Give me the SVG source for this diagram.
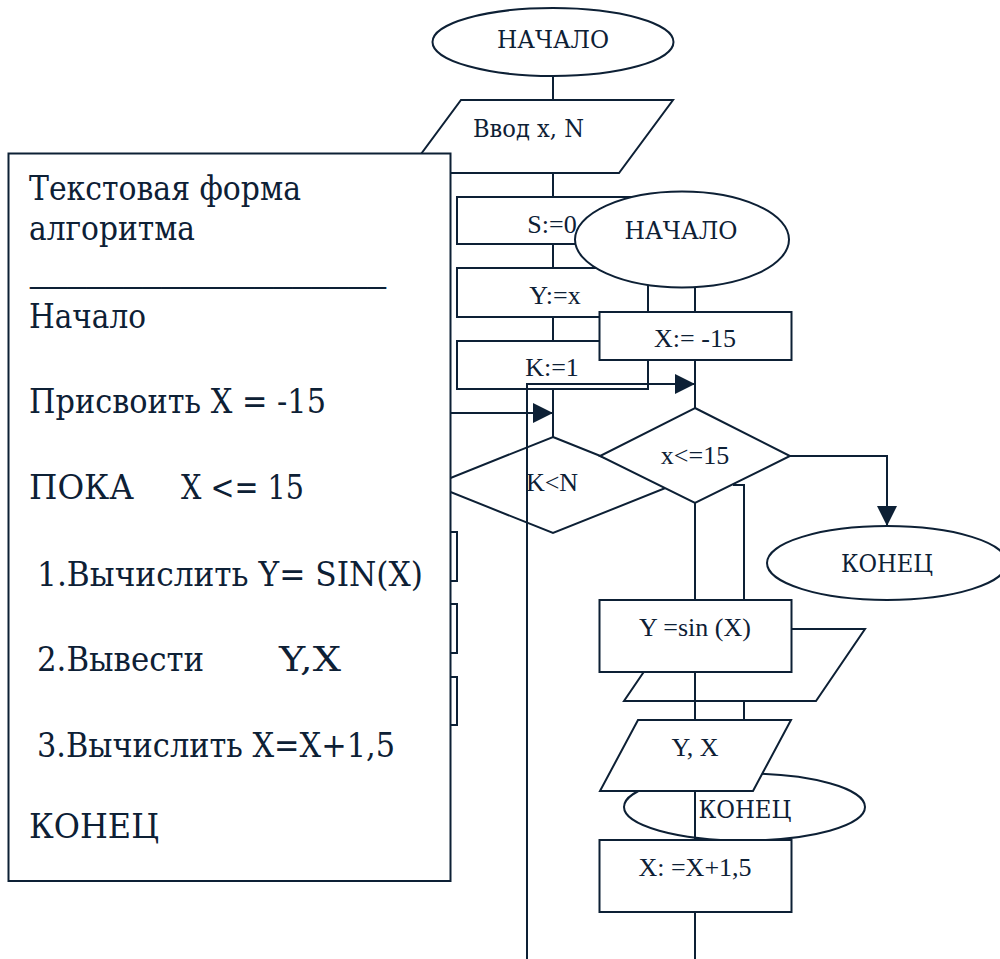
<svg xmlns="http://www.w3.org/2000/svg" width="1000" height="959" viewBox="0 0 1000 959">
  <style>
    .s { fill: #ffffff; stroke: #0d2035; stroke-width: 2; }
    .ln { fill: none; stroke: #0d2035; stroke-width: 2; }
    .t { font-family: "Liberation Serif", "Times New Roman", serif; font-size: 26px; fill: #0d2035; }
    .cy { font-family: "DejaVu Serif", "Liberation Serif", serif; font-size: 24px; }
    .tc { text-anchor: middle; }
    .big { font-family: "DejaVu Serif", "Liberation Serif", serif; font-size: 34px; fill: #0d2035; }
    .rule { font-family: "Liberation Serif", "Times New Roman", serif; font-size: 37px; fill: #0d2035; }
  </style>
  <defs>
    <marker id="arrow" markerUnits="userSpaceOnUse" markerWidth="20" markerHeight="20" refX="20" refY="10" orient="auto">
      <path d="M0,0 L20,10 L0,20 Z" fill="#0d2035"/>
    </marker>
  </defs>

  <!-- first flowchart (behind the text panel) -->
  <g id="back-connectors">
    <line class="ln" x1="553" y1="76" x2="553" y2="100"/>
    <line class="ln" x1="553" y1="173" x2="553" y2="197"/>
    <line class="ln" x1="553" y1="244" x2="553" y2="268"/>
    <line class="ln" x1="553" y1="317" x2="553" y2="341"/>
    <line class="ln" x1="553" y1="389" x2="553" y2="437"/>
    <line class="ln" x1="440" y1="413" x2="553" y2="413" marker-end="url(#arrow)"/>
    <polyline class="ln" points="733,485 744,485 744,720"/>
  </g>
  <g id="start1">
    <ellipse class="s" cx="553" cy="42" rx="120.5" ry="34"/>
    <text class="t cy tc" x="553" y="48" textLength="112" lengthAdjust="spacingAndGlyphs">НАЧАЛО</text>
  </g>
  <g id="input1">
    <polygon class="s" points="461,100 673,100 619,173 407,173"/>
    <text class="t cy" x="473" y="137" textLength="111" lengthAdjust="spacingAndGlyphs">Ввод x, N</text>
  </g>
  <g id="s0">
    <rect class="s" x="457" y="197" width="191" height="47"/>
    <text class="t tc" x="552" y="233">S:=0</text>
  </g>
  <g id="yx">
    <rect class="s" x="457" y="268" width="191" height="49"/>
    <text class="t tc" x="555" y="304">Y:=x</text>
  </g>
  <g id="k1">
    <rect class="s" x="457" y="341" width="191" height="48"/>
    <text class="t tc" x="552" y="376">K:=1</text>
  </g>
  <g id="kn">
    <polygon class="s" points="553,437 673,485 553,533 433,485"/>
    <text class="t tc" x="552" y="491">K&lt;N</text>
  </g>
  <g id="body1">
    <rect class="s" x="265" y="532" width="192" height="49"/>
    <rect class="s" x="265" y="604" width="192" height="49"/>
    <rect class="s" x="265" y="677" width="192" height="48"/>
  </g>
  <g id="output1">
    <polygon class="s" points="673,629 865,629 816,701 624,701"/>
  </g>

  <!-- text form of the algorithm -->
  <g id="text-panel">
    <rect class="s" x="8.5" y="153.5" width="442" height="727.5"/>
    <text class="big" x="29" y="200" textLength="272" lengthAdjust="spacingAndGlyphs">Текстовая форма</text>
    <text class="big" x="29" y="240" textLength="166" lengthAdjust="spacingAndGlyphs">алгоритма</text>
    <text class="rule" x="30" y="284" textLength="356" lengthAdjust="spacingAndGlyphs">___________________</text>
    <text class="big" x="29" y="328" textLength="117" lengthAdjust="spacingAndGlyphs">Начало</text>
    <text class="big" x="29" y="413" textLength="297" lengthAdjust="spacingAndGlyphs">Присвоить X = -15</text>
    <text class="big" x="29" y="499" textLength="105" lengthAdjust="spacingAndGlyphs">ПОКА</text>
    <text class="big" x="181" y="499" textLength="123" lengthAdjust="spacingAndGlyphs">X &lt;= 15</text>
    <text class="big" x="37" y="586" textLength="386" lengthAdjust="spacingAndGlyphs">1.Вычислить Y= SIN(X)</text>
    <text class="big" x="37" y="671" textLength="167" lengthAdjust="spacingAndGlyphs">2.Вывести</text>
    <text class="big" x="279" y="671" textLength="62" lengthAdjust="spacingAndGlyphs">Y,X</text>
    <text class="big" x="37" y="757" textLength="358" lengthAdjust="spacingAndGlyphs">3.Вычислить X=X+1,5</text>
    <text class="big" x="29" y="838" textLength="130" lengthAdjust="spacingAndGlyphs">КОНЕЦ</text>
  </g>

  <!-- second flowchart -->
  <g id="start2">
    <ellipse class="s" cx="682" cy="239.5" rx="107" ry="48"/>
    <text class="t cy tc" x="681" y="239" textLength="113" lengthAdjust="spacingAndGlyphs">НАЧАЛО</text>
  </g>
  <g id="x-init">
    <rect class="s" x="599.5" y="312" width="192" height="48"/>
    <text class="t tc" x="695" y="347">X:= -15</text>
  </g>
  <g id="cond">
    <polygon class="s" points="695,408 790,456 695,503 600,456"/>
    <text class="t tc" x="695" y="464">x&lt;=15</text>
  </g>
  <g id="end-right">
    <ellipse class="s" cx="887" cy="563" rx="120" ry="37"/>
    <text class="t cy tc" x="887" y="572" textLength="92" lengthAdjust="spacingAndGlyphs">КОНЕЦ</text>
  </g>
  <g id="sin">
    <rect class="s" x="599.5" y="600" width="192" height="72"/>
    <text class="t tc" x="695" y="636">Y =sin (X)</text>
  </g>
  <g id="end-lower">
    <ellipse class="s" cx="744.5" cy="807" rx="120.5" ry="33.5"/>
    <text class="t cy tc" x="745" y="818" textLength="93" lengthAdjust="spacingAndGlyphs">КОНЕЦ</text>
  </g>
  <g id="output2">
    <polygon class="s" points="638,720 791,720 753,791 600,791"/>
    <text class="t tc" x="695" y="756">Y, X</text>
  </g>
  <g id="x-step">
    <rect class="s" x="599.5" y="840" width="192" height="72"/>
    <text class="t tc" x="695" y="876">X: =X+1,5</text>
  </g>

  <g id="connectors">
    <line class="ln" x1="695" y1="287" x2="695" y2="312"/>
    <line class="ln" x1="695" y1="360" x2="695" y2="408"/>
    <line class="ln" x1="695" y1="503" x2="695" y2="600"/>
    <line class="ln" x1="695" y1="672" x2="695" y2="720"/>
    <line class="ln" x1="695" y1="791" x2="695" y2="840"/>
    <line class="ln" x1="695" y1="912" x2="695" y2="959"/>
    <polyline class="ln" points="527,959 527,384 695,384" marker-end="url(#arrow)"/>
    <polyline class="ln" points="790,456 887,456 887,526" marker-end="url(#arrow)"/>
  </g>
</svg>
